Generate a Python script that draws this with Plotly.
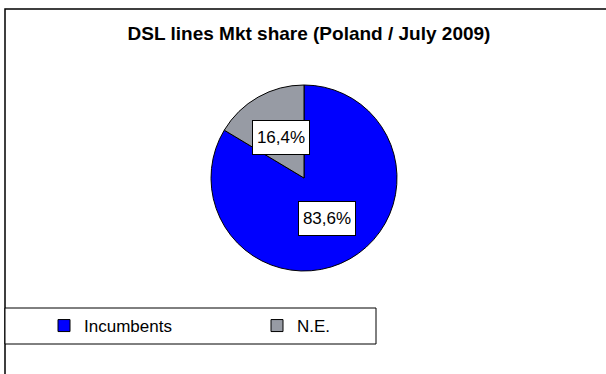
import math
import plotly.graph_objects as go

# ---- data ----
title_text = "DSL lines Mkt share (Poland / July 2009)"
categories = ["Incumbents", "N.E."]
shares = [83.6, 16.4]
colors = ["#0000FF", "#979BA4"]

W, H = 606, 374
# pie geometry (pixels)
cx, cy, r = 304, 178, 93

fig = go.Figure()
fig.add_trace(go.Pie(
    labels=categories,
    values=shares,
    sort=False,
    direction="clockwise",
    rotation=0,
    marker=dict(colors=colors, line=dict(color="black", width=1)),
    textinfo="none",
    hoverinfo="label+percent",
    domain=dict(x=[(cx - r) / W, (cx + r) / W],
                y=[(H - cy - r) / H, (H - cy + r) / H]),
))

# data labels placed at mid-angle of each slice, half radius
annotations = []
total = sum(shares)
cum = 0.0
for cat, v in zip(categories, shares):
    mid = (cum + v / 2) / total * 2 * math.pi
    cum += v
    px = cx + 0.5 * r * math.sin(mid)
    py = cy - 0.5 * r * math.cos(mid)
    annotations.append(dict(
        x=px / W, y=1 - py / H, xref="paper", yref="paper",
        text=f"{v:.1f}%".replace(".", ","),
        showarrow=False,
        font=dict(family="Liberation Sans, Arial", size=17, color="black"),
        bgcolor="white", bordercolor="black", borderwidth=1,
        borderpad=4, width=48, height=25,
        xanchor="center", yanchor="middle",
    ))

shapes = [
    # chart area border
    dict(type="rect", xref="paper", yref="paper",
         x0=5 / W, y0=1 - 9 / H, x1=1.1, y1=-0.1,
         line=dict(color="black", width=1.5), fillcolor="rgba(0,0,0,0)", layer="below"),
    # legend box
    dict(type="rect", xref="paper", yref="paper",
         x0=5 / W, y0=1 - 308 / H, x1=376 / W, y1=1 - 344 / H,
         line=dict(color="black", width=1), fillcolor="white", layer="below"),
]

fig.update_layout(
    width=W, height=H,
    margin=dict(l=0, r=0, t=0, b=0),
    paper_bgcolor="white",
    plot_bgcolor="white",
    font=dict(family="Liberation Sans, Arial", color="black"),
    title=dict(text=f"<b>{title_text}</b>", x=309 / W, xanchor="center",
               y=1 - 33 / H, yanchor="middle", yref="container",
               font=dict(family="Liberation Sans, Arial", size=19, color="black")),
    showlegend=True,
    legend=dict(orientation="h", x=44 / W, xanchor="left",
                y=1 - 326 / H, yanchor="middle",
                font=dict(size=17, family="Liberation Sans, Arial"),
                itemwidth=30, entrywidth=168, entrywidthmode="pixels",
                bgcolor="rgba(0,0,0,0)", borderwidth=0,
                traceorder="normal"),
    annotations=annotations,
    shapes=shapes,
)

fig.write_html(
    "out.html",
    config={"displayModeBar": False},
    post_script="document.body.style.margin='0';document.body.style.overflow='hidden';",
)
